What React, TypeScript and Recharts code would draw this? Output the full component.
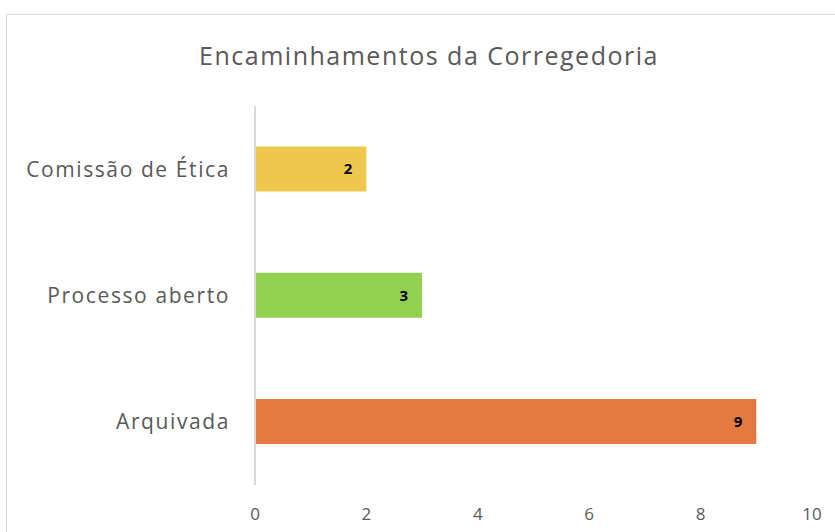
import React from 'react';
import { BarChart, Bar, XAxis, YAxis, Cell, LabelList } from 'recharts';

const categories = ['Comissão de Ética', 'Processo aberto', 'Arquivada'];
const values = [2, 3, 9];
const barColors = ['#EEC84C', '#92D050', '#E57A40'];
const xTicks = [0, 2, 4, 6, 8, 10];

const data = categories.map((name, i) => ({ name, value: values[i] }));

const FONT = '"Open Sans", Lato, sans-serif';

export default function App() {
  return (
    <div style={{ position: 'absolute', left: 0, top: 0, width: 835, height: 532, overflow: 'hidden', background: '#fff', fontFamily: FONT }}>
      {/* chart frame */}
      <div style={{ position: 'absolute', left: 6, top: 14, width: 900, height: 600, border: '1.5px solid #d9d9d9' }} />
      <div style={{ position: 'absolute', left: 0, top: 38, width: 858, textAlign: 'center', fontSize: 25, letterSpacing: 1.5, color: '#595959' }}>
        Encaminhamentos da Corregedoria
      </div>
      <BarChart
        width={835}
        height={532}
        data={data}
        layout="vertical"
        margin={{ top: 106, right: 23, bottom: 7, left: 0 }}
        barCategoryGap="32%"
        style={{ position: 'absolute', left: 0, top: 0 }}
      >
        <XAxis
          type="number"
          domain={[0, 10]}
          ticks={xTicks}
          axisLine={false}
          tickLine={false}
          tickSize={0}
          tickMargin={23}
          height={40}
          tick={{ fill: '#595959', fontSize: 17, fontFamily: FONT }}
        />
        <YAxis
          type="category"
          dataKey="name"
          width={255}
          axisLine={{ stroke: '#d9d9d9', strokeWidth: 2 }}
          tickLine={false}
          tickSize={0}
          tickMargin={25}
          tick={{ fill: '#595959', fontSize: 21, fontFamily: FONT, letterSpacing: 1.6 }}
        />
        <Bar dataKey="value" isAnimationActive={false}>
          {data.map((d, i) => (
            <Cell key={d.name} fill={barColors[i]} />
          ))}
          <LabelList dataKey="value" position="insideRight" offset={14} fill="#000" fontWeight="bold" fontSize={15} fontFamily={FONT} />
        </Bar>
      </BarChart>
    </div>
  );
}
